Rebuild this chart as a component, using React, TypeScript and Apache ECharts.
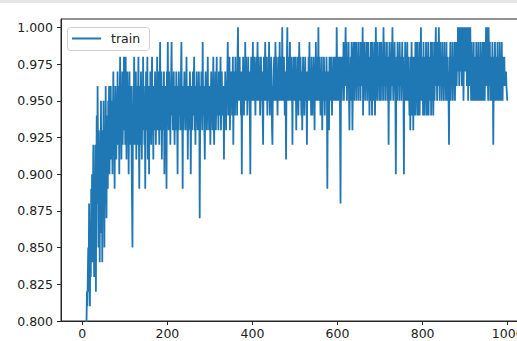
import React, { useEffect, useRef } from "react";
import * as echarts from "echarts";

// Training accuracy (percent), one value per iteration
const seg0 = [30,45,52,60,65,70,72,76,78,79, 80,82,81,83,85,82,88,84,81,86, 83,89,85,90,84,88,92,86,83,90, 87,92,82,89,94,88,96,91,85,93, 90,84,92,88,95,86,91,84,93,89, 95,90,85,93,88,96,91,87,94,92, 89,95,93,96,90,94,92,96,91,93, 95,90,94,97,92,95,89,93,96,94, 91,95,93,97,92,96,94,90,95,98, 93,96,91,94,97,92,95,93,98,94];
const seg1 = [96,92,98,94,91,95,97,93,96,90, 94,97,92,95,93,96,91,88,85,93, 96,94,98,92,95,93,97,91,94,96, 92,95,98,93,89,94,96,92,97,94, 91,95,93,98,94,96,92,95,89,94, 97,93,95,98,91,94,96,90,95,93, 97,94,92,96,98,93,95,91,96,94, 93,97,95,92,96,94,98,93,95,97, 94,92,96,99,93,95,97,91,94,96, 93,95,97,90,94,96,92,95,89,97];
const seg2 = [94,99,95,93,97,94,96,92,95,97, 99,94,96,93,95,97,94,92,96,95, 93,97,95,94,90,96,93,97,95,94, 96,93,97,99,95,94,89,96,93,95, 97,94,96,93,95,98,94,96,91,95, 93,96,94,97,95,90,94,96,93,95, 97,94,96,98,93,95,92,96,94,97, 95,93,96,94,97,95,87,93,96,94, 97,95,93,99,95,94,96,93,91,95, 97,94,96,93,95,98,94,96,93,95];
const seg3 = [96,92,95,97,94,96,93,95,98,94, 92,96,95,97,93,95,98,94,96,95, 93,97,95,94,96,98,93,95,97,94, 96,94,95,91,96,94,97,95,93,96, 95,97,99,94,96,95,98,93,96,97, 95,97,94,96,98,92,96,95,97,94, 98,95,97,96,94,98,100,95,97,96, 98,95,97,94,96,90,97,95,98,96, 94,97,95,99,96,98,95,97,94,96, 98,95,97,96,94,90,96,98,95,97];
const seg4 = [96,99,95,97,98,95,96,94,97,98, 95,97,99,96,95,98,96,97,94,96, 98,95,97,96,94,92,96,98,95,97, 99,96,95,97,98,94,96,97,95,99, 96,94,97,95,98,96,93,92,96,95, 97,98,95,96,99,97,95,98,96,94, 97,95,98,96,99,95,97,96,98,95, 100,96,97,95,98,96,94,97,95,91, 96,98,100,95,97,96,98,95,99,96, 97,95,98,96,92,97,95,98,96,97];
const seg5 = [95,98,96,93,97,95,98,96,94,97, 99,96,95,98,96,94,97,93,96,98, 95,97,94,96,98,95,97,96,92,97, 96,95,98,96,99,95,97,96,94,98, 96,94,97,95,98,96,93,97,95,99, 96,98,95,97,96,100,95,97,98,96, 94,97,95,98,93,96,97,95,98,96, 94,97,96,95,98,96,89,95,97,96, 93,98,96,97,95,98,96,94,97,95, 98,96,97,95,98,97,96,95,100,97];
const seg6 = [95,98,96,97,95,98,93,88,96,98, 95,97,98,96,99,95,97,96,98,100, 96,99,95,97,98,96,99,95,93,97, 96,98,95,99,97,93,96,98,99,95, 97,99,96,98,95,99,97,96,98,95, 99,96,97,98,95,99,96,98,97,100, 94,98,96,99,97,95,98,96,99,97, 95,98,99,96,97,94,98,96,99,95, 97,94,99,96,98,95,97,99,94,96, 100,97,98,95,99,96,98,97,95,99];
const seg7 = [96,98,95,99,97,96,98,95,100,97, 96,99,95,98,97,96,99,95,97,98, 92,97,99,96,98,95,97,99,96,100, 97,95,98,96,99,97,95,90,96,98, 95,99,97,96,98,95,99,97,96,98, 95,97,99,96,98,95,90,97,96,99, 97,95,98,96,99,95,97,98,96,94, 97,93,98,94,99,96,94,98,93,97, 94,98,96,99,94,97,95,99,96,94, 98,96,99,94,97,95,100,96,98,95];
const seg8 = [98,94,99,96,97,94,98,95,99,96, 94,98,96,99,94,97,95,98,96,99, 94,97,99,95,98,94,96,99,95,97, 98,100,96,98,95,99,97,96,100,98, 95,99,97,96,98,95,99,96,98,97, 95,99,96,98,97,95,99,96,98,95, 97,95,92,98,96,99,95,97,98,96, 99,95,97,98,96,99,95,98,97,99, 96,98,97,100,99,100,96,98,100,97, 99,100,96,98,100,99,95,98,100,99];
const seg9 = [100,97,99,100,96,98,100,95,99,100, 98,96,100,97,95,99,96,98,95,97, 99,95,97,96,98,95,99,97,95,98, 96,99,95,97,98,95,99,96,98,95, 97,99,95,98,96,99,95,98,97,100, 96,99,100,97,95,100,98,96,99,95, 97,98,95,96,99,97,92,96,98,95, 99,96,97,95,98,96,99,95,97,98, 95,99,96,98,95,97,99,96,95,98, 96,97,98,96,97,96,97,96,96,95];

const accPercent = [...seg0, ...seg1, ...seg2, ...seg3, ...seg4, ...seg5, ...seg6, ...seg7, ...seg8, ...seg9];
const iterStep = 1;

const xTicks = [0, 200, 400, 600, 800, 1000];
const yTicks = [0.8, 0.825, 0.85, 0.875, 0.9, 0.925, 0.95, 0.975, 1.0];
const seriesName = "train";

export default function App() {
  const ref = useRef<HTMLDivElement>(null);
  useEffect(() => {
    if (!ref.current) return;
    const chart = echarts.init(ref.current, null, { renderer: "svg" });
    const data = accPercent.map((v, i) => [i * iterStep, v / 100]);
    const font = "DejaVu Sans";
    chart.setOption({
      animation: false,
      backgroundColor: "#ffffff",
      grid: {
        left: 61, top: 19, width: 468, bottom: 20,
        outerBoundsMode: "none", containLabel: false,
        show: true, borderColor: "#262626", borderWidth: 1, backgroundColor: "transparent",
      },
      xAxis: {
        type: "value",
        min: -50,
        max: 1050,
        axisLine: { show: true, onZero: false, lineStyle: { color: "#262626", width: 1 } },
        splitLine: { show: false },
        axisTick: { show: true, length: 4, customValues: xTicks, lineStyle: { color: "#262626" } },
        axisLabel: {
          customValues: xTicks,
          color: "#222",
          fontSize: 12.5,
          fontFamily: font,
          margin: 6,
          formatter: (v: number) => String(v),
        },
      },
      yAxis: {
        type: "value",
        min: 0.8,
        max: 1.0057,
        axisLine: { show: true, onZero: false, lineStyle: { color: "#262626", width: 1 } },
        splitLine: { show: false },
        axisTick: { show: true, length: 4, customValues: yTicks, lineStyle: { color: "#262626" } },
        axisLabel: {
          customValues: yTicks,
          color: "#222",
          fontSize: 12.5,
          fontFamily: font,
          margin: 8,
          formatter: (v: number) => v.toFixed(3),
        },
      },
      series: [
        {
          name: seriesName,
          type: "line",
          data,
          showSymbol: false,
          clip: true,
          lineStyle: { color: "#1f77b4", width: 1.8 },
          itemStyle: { color: "#1f77b4" },
        },
      ],
      graphic: [
        { type: "rect", left: 0, top: 0, shape: { width: 517, height: 3 }, style: { fill: "#e6e6e6" }, z: 100 },
        {
          type: "rect",
          z: 100,
          shape: { x: 67.5, y: 27.5, width: 82, height: 23, r: 3 },
          style: { fill: "rgba(255,255,255,0.8)", stroke: "#d0d0d0", lineWidth: 1 },
        },
        {
          type: "line",
          z: 101,
          shape: { x1: 72, y1: 38.5, x2: 101, y2: 38.5 },
          style: { stroke: "#1f77b4", lineWidth: 2 },
        },
        {
          type: "text",
          z: 101,
          x: 111,
          y: 38.5,
          style: { text: seriesName, fill: "#222", fontSize: 12.5, fontFamily: font, verticalAlign: "middle" },
        },
      ],
    });
    return () => chart.dispose();
  }, []);
  return <div ref={ref} style={{ width: 517, height: 341, position: "fixed", left: 0, top: 0 }} />;
}
